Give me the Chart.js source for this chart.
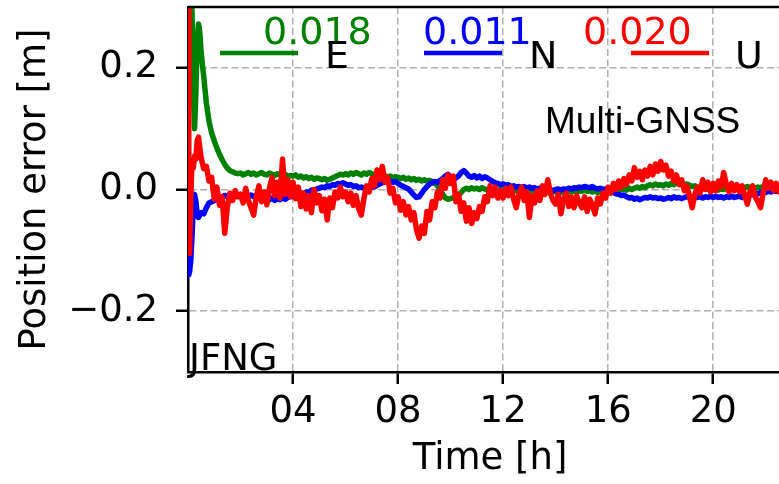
<!DOCTYPE html>
<html>
<head>
<meta charset="utf-8">
<script src="https://cdn.jsdelivr.net/npm/chart.js@4.4.1/dist/chart.umd.min.js"></script>
<style>
  html, body { margin: 0; padding: 0; background: #fff; width: 779px; height: 484px; overflow: hidden; }
  #plot { display: block; }
</style>
</head>
<body>
<canvas id="plot" width="800" height="484"></canvas>
<script>
// Epoch times in hours (dense samples during convergence, then every 0.1 h)
const hours = [0,0.03,0.06,0.1,0.15,0.2,0.25,0.3,0.35,0.4,0.45,
  0.5,0.6,0.7,0.8,0.9,
  1,1.1,1.2,1.3,1.4,1.5,1.6,1.7,1.8,1.9,
  2,2.1,2.2,2.3,2.4,2.5,2.6,2.7,2.8,2.9,
  3,3.1,3.2,3.3,3.4,3.5,3.6,3.7,3.8,3.9,
  4,4.1,4.2,4.3,4.4,4.5,4.6,4.7,4.8,4.9,
  5,5.1,5.2,5.3,5.4,5.5,5.6,5.7,5.8,5.9,
  6,6.1,6.2,6.3,6.4,6.5,6.6,6.7,6.8,6.9,
  7,7.1,7.2,7.3,7.4,7.5,7.6,7.7,7.8,7.9,
  8,8.1,8.2,8.3,8.4,8.5,8.6,8.7,8.8,8.9,
  9,9.1,9.2,9.3,9.4,9.5,9.6,9.7,9.8,9.9,
  10,10.1,10.2,10.3,10.4,10.5,10.6,10.7,10.8,10.9,
  11,11.1,11.2,11.3,11.4,11.5,11.6,11.7,11.8,11.9,
  12,12.1,12.2,12.3,12.4,12.5,12.6,12.7,12.8,12.9,
  13,13.1,13.2,13.3,13.4,13.5,13.6,13.7,13.8,13.9,
  14,14.1,14.2,14.3,14.4,14.5,14.6,14.7,14.8,14.9,
  15,15.1,15.2,15.3,15.4,15.5,15.6,15.7,15.8,15.9,
  16,16.1,16.2,16.3,16.4,16.5,16.6,16.7,16.8,16.9,
  17,17.1,17.2,17.3,17.4,17.5,17.6,17.7,17.8,17.9,
  18,18.1,18.2,18.3,18.4,18.5,18.6,18.7,18.8,18.9,
  19,19.1,19.2,19.3,19.4,19.5,19.6,19.7,19.8,19.9,
  20,20.1,20.2,20.3,20.4,20.5,20.6,20.7,20.8,20.9,
  21,21.1,21.2,21.3,21.4,21.5,21.6,21.7,21.8,21.9,
  22,22.1,22.2,22.3,22.4,22.5,22.6,22.7,22.8,22.9,
  23,23.1,23.2,23.3,23.4,23.5,23.6,23.7,23.8,23.9,
  24];

// East component error, millimetres
const eastMm = [450,420,380,330,300,170,100,160,245,272,258,
  225,185,142,112,93,
  80,68,58,49,41,35,31,29,27,26,
  27,24,26,28,25,27,24,26,28,25,
  24,27,25,23,26,24,22,25,21,23,
  22,24,20,22,19,21,18,20,17,19,
  18,16,18,15,17,19,21,23,25,24,
  26,24,27,25,28,26,24,27,25,28,
  26,24,22,24,21,23,20,22,19,21,
  20,18,20,17,19,16,18,15,17,14,
  16,14,15,13,10,6,0,-8,-14,-16,
  -15,-13,-14,-10,-5,0,2,0,3,1,
  2,0,3,1,-1,1,-1,0,-2,0,
  -1,1,-1,-3,-1,-2,0,-2,-1,-3,
  -2,0,-2,-1,-3,-1,0,-2,-1,-3,
  -4,-2,-5,-3,-5,-3,-4,-2,-4,-2,
  -3,-1,-3,-2,-4,-2,-5,-3,-6,-4,
  -6,-4,-3,-1,-2,0,1,-1,2,0,
  2,4,2,5,3,6,8,6,9,7,
  8,6,9,7,10,8,11,9,10,8,
  9,7,5,6,3,4,2,3,1,2,
  0,1,-1,1,0,2,0,1,-1,1,
  2,4,3,5,3,4,2,4,3,5,
  4,6,4,5,3,4,2,4,3,2,
  3,1,3,2,0,2,1,3,1,2,
  1];

// North component error, millimetres
const northMm = [-130,-140,-135,-120,-80,-30,-8,-20,-40,-46,-42,
  -38,-40,-30,-22,-20,
  -18,-15,-17,-12,-10,-12,-8,-10,-7,-9,
  -8,-10,-7,-11,-9,-12,-10,-14,-12,-16,
  -13,-17,-14,-18,-15,-17,-14,-16,-13,-11,
  -12,-9,-10,-6,-7,-4,-5,-1,-2,1,
  2,4,3,6,5,8,7,10,9,11,
  9,7,8,5,6,3,4,2,4,3,
  5,4,7,9,11,13,12,14,12,13,
  10,7,5,3,1,-4,-9,-13,-12,-6,
  0,5,9,11,13,12,15,18,22,25,
  20,17,19,22,28,31,27,22,20,23,
  19,22,18,21,19,16,13,11,10,8,
  9,7,8,5,6,4,5,3,5,2,
  4,2,3,1,2,0,1,-1,0,-2,
  0,1,-1,1,0,2,1,3,2,4,
  3,5,4,3,5,2,1,2,0,1,
  -1,-3,-5,-7,-8,-10,-9,-12,-14,-13,
  -16,-14,-17,-15,-13,-14,-12,-14,-13,-15,
  -14,-16,-15,-13,-15,-12,-14,-13,-15,-13,
  -12,-14,-13,-11,-13,-12,-14,-12,-13,-11,
  -13,-11,-13,-12,-14,-12,-13,-11,-13,-12,
  -11,-13,-10,-12,-9,-8,-6,-7,-5,-4,
  -5,-3,-4,-2,-3,-1,-2,0,-1,-2,
  0,-1,1,0,-2,0,-1,1,0,-1,
  0];

// Up component error, millimetres
const upMm = [350,20,-105,-20,45,35,55,50,80,86,68,
  52,34,38,14,20,
  -16,4,-26,-12,-72,-28,-6,-18,-2,-12,
  -8,-22,2,-18,-30,-42,-12,6,-20,-4,
  -25,2,20,-10,12,-14,50,-8,16,-12,
  12,-15,4,-28,-6,-32,-10,-38,0,-22,
  -10,-35,-16,-50,-14,-30,-4,-14,4,-12,
  -4,-20,-6,-26,-10,-32,-42,-14,6,-4,
  18,6,32,16,38,12,20,-6,2,-22,
  -12,-34,-20,-42,-28,-50,-38,-66,-80,-60,
  -72,-36,-50,-20,-30,-4,-14,16,2,24,
  10,22,-20,-8,-36,-22,-52,-30,-56,-38,
  -48,-28,-36,-12,-20,6,-10,4,-14,-2,
  -14,2,-10,4,-16,-30,-8,4,-18,-4,
  -46,-10,-22,-2,-18,6,-8,16,-6,-18,
  -24,-8,-40,-16,-6,-28,-12,-30,-10,-22,
  -30,-12,-36,-16,-26,-40,-14,-24,-6,-14,
  4,-6,10,0,14,4,18,8,24,14,
  36,20,30,16,32,22,38,24,42,30,
  46,32,40,22,30,14,24,8,16,-2,
  6,-12,-30,-8,4,-6,16,0,12,-4,
  10,-2,14,4,28,8,-4,10,-2,8,
  -4,6,-10,-24,-4,6,-12,-20,-30,-6,
  16,2,12,-2,10,-4,8,-6,6,-6,
  6,-8,4,-4,8,-4,4,-6,2,-2,
  0];

// Component names, colours and RMS values (m)
const components = ['E', 'N', 'U'];
const componentColors = ['#008000', '#0000ff', '#ff0000'];
const rmsValues = ['0.018', '0.011', '0.020'];

// Axis ticks
const xTickValues = [4, 8, 12, 16, 20];
const xTickLabels = ['04', '08', '12', '16', '20'];
const yTickValues = [-0.2, 0.0, 0.2];
const yTickLabels = ['\u22120.2', '0.0', '0.2'];

const FONT = 'DejaVu Sans';

function toPoints(mm) {
  return hours.map((h, i) => ({ x: h, y: mm[i] / 1000 }));
}

const seriesMm = [eastMm, northMm, upMm];
const lineWidths = [5.5, 5.5, 5.5];
const datasets = components.map((name, k) => ({
  label: name,
  data: toPoints(seriesMm[k]),
  borderColor: componentColors[k],
  backgroundColor: componentColors[k],
  borderWidth: lineWidths[k],
  borderJoinStyle: 'round',
  pointRadius: 0,
  tension: 0,
  fill: false,
  order: 2 - k
}));

const overlay = {
  id: 'overlay',
  afterDraw(chart) {
    const { ctx, chartArea: a } = chart;
    ctx.save();
    // top and right spines
    ctx.strokeStyle = '#000';
    ctx.lineWidth = 2.5;
    ctx.beginPath();
    ctx.moveTo(a.left, a.top);
    ctx.lineTo(a.right, a.top);
    ctx.lineTo(a.right, a.bottom);
    ctx.stroke();

    // legend: RMS value, sample line, component letter
    const lineX = [32, 236, 443];
    const lineLen = 78;
    const numX = [75, 235, 395];
    const letterX = [137, 341, 547];
    ctx.textBaseline = 'alphabetic';
    ctx.textAlign = 'left';
    for (let k = 0; k < components.length; k++) {
      ctx.strokeStyle = componentColors[k];
      ctx.lineWidth = 4.5;
      ctx.beginPath();
      ctx.moveTo(a.left + lineX[k], a.top + 46);
      ctx.lineTo(a.left + lineX[k] + lineLen, a.top + 46);
      ctx.stroke();

      ctx.fillStyle = componentColors[k];
      ctx.font = '38px "' + FONT + '"';
      ctx.fillText(rmsValues[k], a.left + numX[k], a.top + 37);

      ctx.fillStyle = '#000';
      ctx.font = '38px "' + FONT + '"';
      ctx.fillText(components[k], a.left + letterX[k], a.top + 61);
    }

    // annotations
    ctx.fillStyle = '#000';
    ctx.font = '37px "Liberation Sans"';
    ctx.fillText('Multi-GNSS', a.left + 357, a.top + 126);
    ctx.font = '37px "' + FONT + '"';
    ctx.fillText('JFNG', a.left + 1, a.bottom - 2);
    ctx.restore();
  }
};

new Chart(document.getElementById('plot'), {
  type: 'line',
  data: { datasets },
  plugins: [overlay],
  options: {
    responsive: false,
    animation: false,
    devicePixelRatio: 1,
    layout: { padding: { top: 7, right: 8, left: 0, bottom: 0 } },
    plugins: { legend: { display: false }, tooltip: { enabled: false } },
    scales: {
      x: {
        type: 'linear',
        min: 0,
        max: 23,
        afterBuildTicks: (s) => { s.ticks = xTickValues.map(v => ({ value: v })); },
        afterFit: (s) => { s.height = 112; s.paddingLeft = 0; s.paddingRight = 0; },
        ticks: {
          autoSkip: false,
          maxRotation: 0,
          padding: 6,
          color: '#000',
          font: { family: FONT, size: 37 },
          callback: (v, i) => xTickLabels[i]
        },
        grid: {
          color: '#b0b0b0',
          lineWidth: 1.5,
          tickLength: 12,
          tickWidth: 2.5,
          tickColor: '#000',
          tickBorderDash: []
        },
        border: { display: true, color: '#000', width: 2.5, dash: [7, 3.5] },
        title: {
          display: true,
          text: 'Time [h]',
          color: '#000',
          font: { family: FONT, size: 37 },
          padding: { top: 0, bottom: 2 }
        }
      },
      y: {
        type: 'linear',
        min: -0.3,
        max: 0.3,
        afterBuildTicks: (s) => { s.ticks = yTickValues.map(v => ({ value: v })); },
        afterFit: (s) => { s.width = 188; s.paddingTop = 0; s.paddingBottom = 0; },
        ticks: {
          autoSkip: false,
          padding: 18,
          color: '#000',
          font: { family: FONT, size: 37 },
          callback: (v, i) => yTickLabels[i]
        },
        grid: {
          color: '#b0b0b0',
          lineWidth: 1.5,
          tickLength: 12,
          tickWidth: 2.5,
          tickColor: '#000',
          tickBorderDash: []
        },
        border: { display: true, color: '#000', width: 2.5, dash: [7, 3.5] },
        title: {
          display: true,
          text: 'Position error [m]',
          color: '#000',
          font: { family: FONT, size: 37 },
          padding: { top: 13, bottom: 0 }
        }
      }
    }
  }
});
</script>
</body>
</html>
